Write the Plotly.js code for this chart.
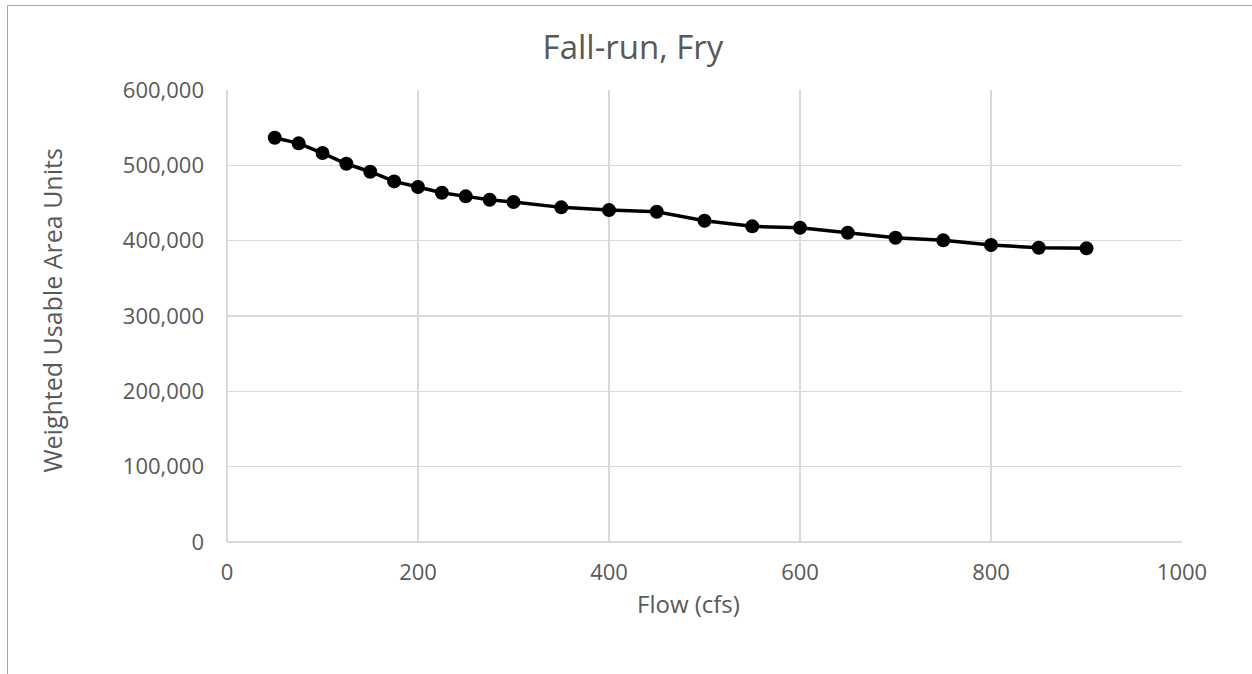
<!DOCTYPE html>
<html>
<head>
<meta charset="utf-8">
<script src="https://cdn.plot.ly/plotly-3.0.1.min.js"></script>
<style>
  html, body { margin: 0; padding: 0; background: #fff; overflow: hidden; }
  #frame { position: absolute; left: 7px; top: 5px; width: 1300px; height: 720px; border: 1px solid #a6a6a6; box-sizing: border-box; }
  #chart { position: absolute; left: 0; top: 0; width: 1252px; height: 674px; }
</style>
</head>
<body>
<div id="frame"></div>
<div id="chart"></div>
<script>
const flow = [50, 75, 100, 125, 150, 175, 200, 225, 250, 275, 300, 350, 400, 450, 500, 550, 600, 650, 700, 750, 800, 850, 900];
const wua = [536700, 529200, 516300, 502100, 491500, 478700, 471200, 463600, 458800, 454300, 451300, 444200, 440600, 438400, 426400, 419000, 417100, 410500, 403900, 400400, 394200, 390600, 389800];
const xTicks = [0, 200, 400, 600, 800, 1000];
const yTicks = [0, 100000, 200000, 300000, 400000, 500000, 600000];
const chartTitle = "Fall-run, Fry";
const xTitle = "Flow (cfs)";
const yTitle = "Weighted Usable Area Units";

const font = "Open Sans, Noto Sans, Liberation Sans, sans-serif";
const grey = "#595959";

Plotly.newPlot("chart", [{
  x: flow, y: wua, type: "scatter", mode: "lines+markers",
  line: { color: "#000", width: 3.5 },
  marker: { color: "#000", size: 14 },
  hoverinfo: "x+y"
}], {
  width: 1252, height: 674,
  margin: { l: 227, r: 70, t: 90, b: 132 },
  paper_bgcolor: "rgba(0,0,0,0)", plot_bgcolor: "rgba(0,0,0,0)",
  showlegend: false,
  title: { text: chartTitle, xref: "container", yref: "container", x: 0.5056, xanchor: "center", y: 0.929, yanchor: "middle", font: { family: font, size: 33, color: grey } },
  xaxis: {
    range: [0, 1000], tickvals: xTicks,
    showgrid: true, gridcolor: "#d9d9d9", gridwidth: 1.3,
    zeroline: true, zerolinecolor: "#d9d9d9", zerolinewidth: 1.3,
    showline: false, ticks: "", ticklabelstandoff: 15,
    tickfont: { family: font, size: 22, color: grey }
  },
  yaxis: {
    range: [0, 600000], tickvals: yTicks,
    tickformat: ",", showgrid: true, gridcolor: "#d9d9d9", gridwidth: 1.3,
    zeroline: true, zerolinecolor: "#d9d9d9", zerolinewidth: 1.3,
    showline: false, ticks: "", ticklabelstandoff: 22,
    tickfont: { family: font, size: 22, color: grey }
  },
  annotations: [
    { text: xTitle, xref: "paper", yref: "paper", x: 0.4832, y: -0.0951, xanchor: "center", yanchor: "top",
      showarrow: false, font: { family: font, size: 24, color: grey } },
    { text: yTitle, xref: "paper", yref: "paper", x: -0.1827, y: 0.511, xanchor: "center", yanchor: "middle",
      textangle: -90, showarrow: false, font: { family: font, size: 25, color: grey } }
  ]
}, { displayModeBar: false, staticPlot: true });
</script>
</body>
</html>
